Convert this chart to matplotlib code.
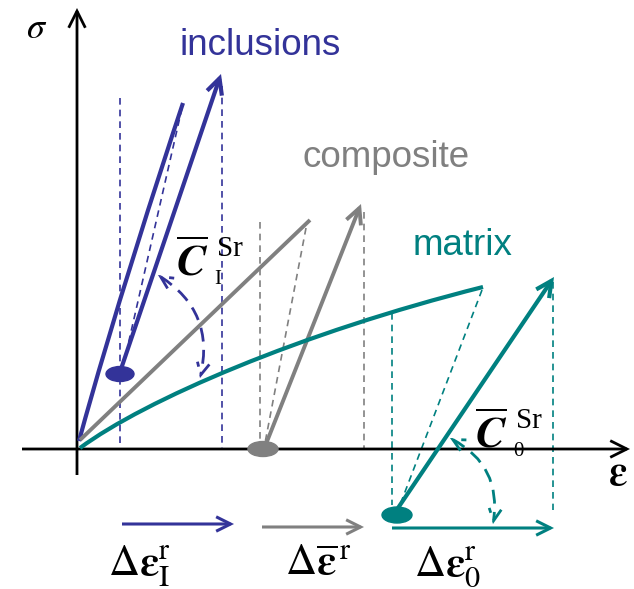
import numpy as np
import matplotlib
matplotlib.use('Agg')
import matplotlib.pyplot as plt
from matplotlib.patches import Ellipse, FancyArrowPatch, PathPatch
from matplotlib.path import Path

plt.rcParams['mathtext.fontset'] = 'stix'

BLUE = '#333399'
GRAY = '#808080'
TEAL = '#008080'

# schematic coordinates, in picture units (x right, y down)
axis_origin = (77, 449)
x_axis_span = (22, 630)
y_axis_span = (475, 8)

# inclusions (curve given as bezier control points)
incl_curve_x = [79, 112, 158, 183]
incl_curve_y = [441, 320, 178, 103]
incl_unload_x = [182, 128]
incl_unload_y = [108, 345]
incl_arrow = [(120, 372), (221, 74)]
incl_dot = (120, 374)
incl_vlines = [(120, 98), (222, 86)]

# composite
comp_line_x = [80, 310]
comp_line_y = [440, 220]
comp_unload_x = [306, 265]
comp_unload_y = [228, 443]
comp_arrow = [(266, 444), (361, 204)]
comp_dot = (263, 449)
comp_vlines = [(260, 222), (364, 212)]

# matrix (curve given as bezier control points)
mat_curve_x = [80, 145, 300, 483]
mat_curve_y = [448, 400, 333, 287]
mat_unload_x = [482, 400]
mat_unload_y = [290, 505]
mat_arrow = [(398, 508), (554, 277)]
mat_dot = (397, 515)
mat_vlines = [(392, 313, 505), (553, 282, 510)]

# residual strain arrows
res_arrows = [((122, 524), (234, 524), BLUE),
              ((262, 527), (364, 527), GRAY),
              ((392, 528), (554, 528), TEAL)]

fig = plt.figure(figsize=(6.34, 5.89), dpi=100)
ax = fig.add_axes([0, 0, 1, 1])
ax.set_xlim(0, 634)
ax.set_ylim(589, 0)
ax.axis('off')


def arrow(p0, p1, color, lw, ms=22, z=3, ls='-', style='->', rad=0.0):
    a = FancyArrowPatch(p0, p1, arrowstyle=style, mutation_scale=ms, lw=lw,
                        color=color, linestyle=ls, shrinkA=0, shrinkB=0,
                        connectionstyle=f'arc3,rad={rad}', zorder=z,
                        capstyle='butt', joinstyle='miter')
    ax.add_patch(a)


def bezier(xs, ys, color, lw):
    verts = list(zip(xs, ys))
    codes = [Path.MOVETO, Path.CURVE4, Path.CURVE4, Path.CURVE4]
    ax.add_patch(PathPatch(Path(verts, codes), fill=False, edgecolor=color,
                           lw=lw, capstyle='butt', zorder=3))


dash = (0, (4, 3))

# axes
arrow((axis_origin[0], y_axis_span[0]), (axis_origin[0], y_axis_span[1]), 'black', 2.0, ms=30)
arrow((x_axis_span[0], axis_origin[1]), (x_axis_span[1], axis_origin[1]), 'black', 2.0, ms=30)

# inclusions
for x, ytop in incl_vlines:
    ax.plot([x, x], [ytop, axis_origin[1]], color=BLUE, lw=1.2, ls=dash, zorder=1)
bezier(incl_curve_x, incl_curve_y, BLUE, 3.0)
ax.plot(incl_unload_x, incl_unload_y, color=BLUE, lw=1.2, ls=dash, zorder=2)
arrow(incl_arrow[0], incl_arrow[1], BLUE, 3.0, ms=28)
ax.add_patch(Ellipse(incl_dot, 28, 15, color=BLUE, zorder=4))

# composite
for x, ytop in comp_vlines:
    ax.plot([x, x], [ytop, axis_origin[1]], color=GRAY, lw=1.2, ls=dash, zorder=1)
ax.plot(comp_line_x, comp_line_y, color=GRAY, lw=2.8, solid_capstyle='butt', zorder=3)
ax.plot(comp_unload_x, comp_unload_y, color=GRAY, lw=1.2, ls=dash, zorder=2)
arrow(comp_arrow[0], comp_arrow[1], GRAY, 2.8, ms=28)
ax.add_patch(Ellipse(comp_dot, 30, 15, color=GRAY, zorder=4))

# matrix
for x, ytop, ybot in mat_vlines:
    ax.plot([x, x], [ytop, ybot], color=TEAL, lw=1.2, ls=dash, zorder=1)
bezier(mat_curve_x, mat_curve_y, TEAL, 3.0)
ax.plot(mat_unload_x, mat_unload_y, color=TEAL, lw=1.2, ls=dash, zorder=2)
arrow(mat_arrow[0], mat_arrow[1], TEAL, 3.0, ms=28)
ax.add_patch(Ellipse(mat_dot, 30, 16, color=TEAL, zorder=4))

# residual strain arrows
for p0, p1, c in res_arrows:
    arrow(p0, p1, c, 2.2, ms=26)

# curved dashed angle arrows
arrow((158, 275), (200, 378), BLUE, 2.0, ms=22, ls=(0, (5, 3)), style='<->', rad=-0.35)
arrow((450, 438), (493, 524), TEAL, 2.0, ms=22, ls=(0, (5, 3)), style='<->', rad=-0.35)

# labels
sans = ['Liberation Sans', 'DejaVu Sans']
serif = ['Liberation Serif', 'DejaVu Serif']
ax.text(180, 55, 'inclusions', color=BLUE, fontsize=26.5, family=sans, va='baseline')
ax.text(303, 167, 'composite', color=GRAY, fontsize=26.5, family=sans, va='baseline')
ax.text(413, 255, 'matrix', color=TEAL, fontsize=26.5, family=sans, va='baseline')

ax.text(26, 38, r'$\sigma$', fontsize=26, va='baseline')
ax.text(608, 485, r'$\boldsymbol{\varepsilon}$', fontsize=30, va='baseline')

# compliance labels: C-bar with separate super/subscripts
ax.text(176, 276, r'$\overline{\boldsymbol{C}}$', fontsize=32, va='baseline')
ax.text(217, 256, 'Sr', fontsize=21, family=serif, va='baseline')
ax.text(214, 284, 'I', fontsize=15, family=serif, va='baseline')

ax.text(475, 448, r'$\overline{\boldsymbol{C}}$', fontsize=32, va='baseline')
ax.text(516, 428, 'Sr', fontsize=21, family=serif, va='baseline')
ax.text(513, 456, '0', fontsize=15, family=serif, va='baseline')

ax.text(108, 576, r'$\Delta\boldsymbol{\varepsilon}_{\mathrm{I}}^{\mathrm{r}}$', fontsize=31, va='baseline')
ax.text(285, 575, r'$\Delta\overline{\boldsymbol{\varepsilon}}^{\,\mathrm{r}}$', fontsize=31, va='baseline')
ax.text(414, 576, r'$\Delta\boldsymbol{\varepsilon}_{0}^{\mathrm{r}}$', fontsize=31, va='baseline')

fig.savefig('out.png', dpi=100)
